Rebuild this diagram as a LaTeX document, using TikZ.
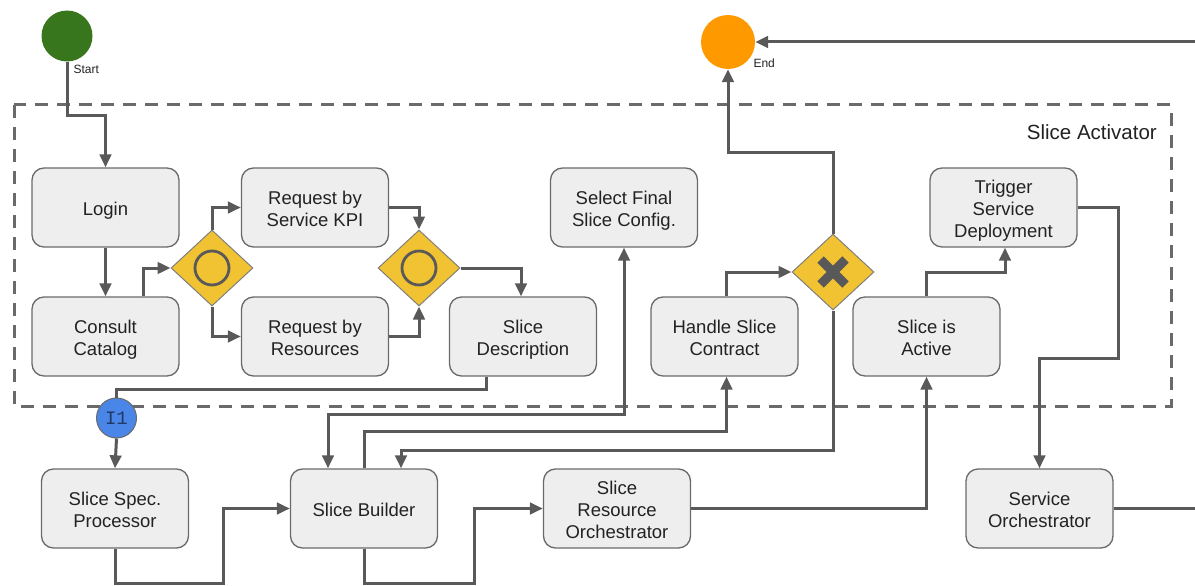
\documentclass[tikz,border=0pt]{standalone}
\usepackage{fontspec}
\setmainfont{Liberation Sans}
\newfontfamily\monofam{Liberation Mono}
\usetikzlibrary{shapes.geometric,arrows.meta}
\definecolor{linegray}{HTML}{595959}
\definecolor{boxborder}{HTML}{6A6A6A}
\definecolor{boxfill}{HTML}{EEEEEE}
\definecolor{txt}{HTML}{222222}
\definecolor{startgreen}{HTML}{38761D}
\definecolor{endorange}{HTML}{FF9900}
\definecolor{gateyellow}{HTML}{F1C232}
\definecolor{gateedge}{HTML}{7F7F7F}
\definecolor{linkblue}{HTML}{4A86E8}
\definecolor{linktext}{HTML}{1F3A66}
% centred multi-line label for task boxes, set a little lower than the box centre
\newcommand\tasktext[1]{\raisebox{-3.5pt}[\height][\depth]{\begin{tabular}{@{}c@{}}#1\end{tabular}}}
\begin{document}
\begin{tikzpicture}[x=1pt,y=-1pt,
  task/.style={draw=boxborder, line width=1.3pt, fill=boxfill, rounded corners=12pt,
    minimum width=147pt, minimum height=79pt, text=txt,
    font=\fontsize{18.5}{22}\selectfont, inner sep=2pt},
  gate/.style={diamond, draw=gateedge, line width=1pt, fill=gateyellow,
    minimum width=82pt, minimum height=76pt, inner sep=0pt},
  event/.style={circle, minimum size=#1, inner sep=0pt},
  flow/.style={draw=linegray, line width=3pt, -{Triangle[length=13pt,width=11.5pt]}},
  plain/.style={draw=linegray, line width=3pt},
  both/.style={draw=linegray, line width=3pt,
    {Triangle[length=13pt,width=11.5pt]}-{Triangle[length=13pt,width=11.5pt]}},
  small/.style={font=\fontsize{12}{14}\selectfont, text=txt}
]
\useasboundingbox (0,0) rectangle (1195,586);

% pool boundary
\draw[boxborder, line width=3pt, dash pattern=on 13pt off 9pt] (14,105) rectangle (1171,406);
\node[anchor=east, text=txt, font=\fontsize{20.5}{23}\selectfont, inner sep=1pt] (pool) at (1158,132) {Slice Activator};

% events
\node[event=51pt, fill=startgreen] (start) at (67,36) {};
\node[small, anchor=west] (startlbl) at (70,69) {Start};
\node[event=54pt, fill=endorange] (end) at (728,42) {};
\node[small, anchor=west] (endlbl) at (750,63) {End};

% tasks inside the activator
\node[task] (login) at (105.5,207.5) {\tasktext{Login}};
\node[task] (cc)    at (105.5,336.5) {\tasktext{Consult\\Catalog}};
\node[task] (kpi)   at (315,207.5) {\tasktext{Request by\\Service KPI}};
\node[task] (res)   at (315,336.5) {\tasktext{Request by\\Resources}};
\node[task] (sd)    at (523,336.5) {\tasktext{Slice\\Description}};
\node[task] (sfc)   at (624,207.5) {\tasktext{Select Final\\Slice Config.}};
\node[task] (hsc)   at (724.5,336.5) {\tasktext{Handle Slice\\Contract}};
\node[task] (sia)   at (926.5,336.5) {\tasktext{Slice is\\Active}};
\node[task] (trig)  at (1003.5,207.5) {\tasktext{Trigger\\Service\\Deployment}};

% components below
\node[task] (ssp) at (115,508.5) {\tasktext{Slice Spec.\\Processor}};
\node[task] (sb)  at (364,508.5) {\tasktext{Slice Builder}};
\node[task] (sro) at (617,508.5) {\tasktext{Slice\\Resource\\Orchestrator}};
\node[task] (so)  at (1039.5,508.5) {\tasktext{Service\\Orchestrator}};

% gateways
\node[gate] (g1) at (212,268) {};
\node[gate] (g2) at (419,268) {};
\node[gate] (gx) at (833,272) {};
\draw[linegray, line width=2.8pt] (g1.center) circle (17pt);
\draw[linegray, line width=2.8pt] (g2.center) circle (17pt);
\draw[linegray, line width=9pt] ([shift={(-12.5pt,12.5pt)}]gx.center) -- ([shift={(12.5pt,-12.5pt)}]gx.center);
\draw[linegray, line width=9pt] ([shift={(-12.5pt,-12.5pt)}]gx.center) -- ([shift={(12.5pt,12.5pt)}]gx.center);

% link event
\node[event=40pt, draw=boxborder, line width=1pt, fill=linkblue, text=linktext,
  font=\monofam\fontsize{19}{20}\selectfont] (i1) at (116.5,418) {I1};

% bend points and free ends
\coordinate (s1) at (90,115);
\coordinate (b1) at (223,583);
\coordinate (b2) at (474,583);
\coordinate (j1) at (833,450);
\coordinate (j2) at (1118,358);
\coordinate (offT) at (1195,42);
\coordinate (offR) at (1195,508.5);

% sequence flows
\draw[flow] (start.south) |- (s1) -| (login.north);
\draw[flow] (login.south) -- (cc.north);
\draw[flow] ([xshift=37.5pt]cc.north) |- (g1.west);
\draw[flow] (g1.north) |- (kpi.west);
\draw[flow] (g1.south) |- (res.west);
\draw[flow] (kpi.east) -| (g2.north);
\draw[flow] (res.east) -| (g2.south);
\draw[flow] (g2.east) -| ([xshift=-2pt]sd.north);
\draw[plain] ([xshift=-37pt]sd.south) -- ++(0,13) -| (i1.north);
\draw[flow] (i1.south) -- (ssp.north);
\draw[flow] (ssp.south) |- (b1) |- (sb.west);
\draw[flow] (sb.south) |- (b2) |- (sro.west);
\draw[both] ([xshift=-36pt]sb.north) -- ++(0,-54) -| (sfc.south);
\draw[flow] (sb.north) -- ++(0,-37) -| ([xshift=2pt]hsc.south);
\draw[flow] (gx.south) -- (j1) -| ([xshift=37pt]sb.north);
\draw[flow] ([xshift=1.5pt]hsc.north) |- (gx.west);
\draw[flow] (gx.north) -- ++(0,-81) -| (end.south);
\draw[flow] (sro.east) -| (sia.south);
\draw[flow] (sia.north) -- ++(0,-24) -| ([xshift=1.5pt]trig.south);
\draw[flow] (trig.east) -| (j2) -| (so.north);
\draw[plain] (so.east) -- (offR);
\draw[flow] (offT) -- (end.east);
\end{tikzpicture}
\end{document}
